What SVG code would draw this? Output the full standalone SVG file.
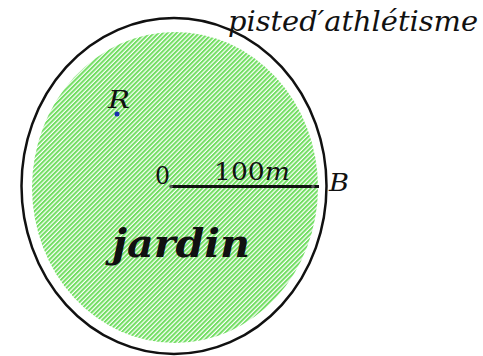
<svg xmlns="http://www.w3.org/2000/svg" width="483" height="356" viewBox="0 0 483 356">
<style>
.t{font-family:"DejaVu Serif","Liberation Serif",serif;fill:#111}
.i{font-style:italic}
</style>
<defs>
<pattern id="hatch" patternUnits="userSpaceOnUse" width="3.2" height="3.2" patternTransform="rotate(45)">
<rect width="3.2" height="3.2" fill="#ffffff"/>
<rect width="2" height="3.2" fill="#72de62"/>
</pattern>
</defs>
<rect width="483" height="356" fill="#fff"/>
<g id="jardin">
<ellipse cx="175" cy="187.5" rx="143" ry="155.5" fill="url(#hatch)"/>
<text class="t i" x="112" y="257" font-size="40" font-weight="bold" textLength="138" lengthAdjust="spacingAndGlyphs">jardin</text>
</g>
<g id="piste">
<ellipse cx="174" cy="186" rx="152.5" ry="168" fill="none" stroke="#111" stroke-width="2.5"/>
<text class="t i" x="228" y="31" font-size="27" textLength="250" lengthAdjust="spacingAndGlyphs">pisted′athlétisme</text>
</g>
<g id="connectors">
<line x1="171" y1="186.5" x2="319" y2="186.5" stroke="#111" stroke-width="3"/>
<circle cx="171" cy="186.5" r="1.8" fill="#555"/>
<circle cx="313" cy="186.5" r="1.8" fill="#555"/>
</g>
<g id="O">
<text class="t" x="155" y="184" font-size="25" textLength="15" lengthAdjust="spacingAndGlyphs">0</text>
</g>
<g id="label100">
<text class="t" x="214" y="180" font-size="25" textLength="76" lengthAdjust="spacingAndGlyphs">100<tspan class="i">m</tspan></text>
</g>
<g id="B">
<text class="t i" x="329" y="191" font-size="25" textLength="20" lengthAdjust="spacingAndGlyphs">B</text>
</g>
<g id="R">
<text class="t i" x="108" y="108" font-size="25" textLength="22" lengthAdjust="spacingAndGlyphs">R</text>
<circle cx="117" cy="114" r="2.5" fill="#1a2fb0"/>
</g>
</svg>
